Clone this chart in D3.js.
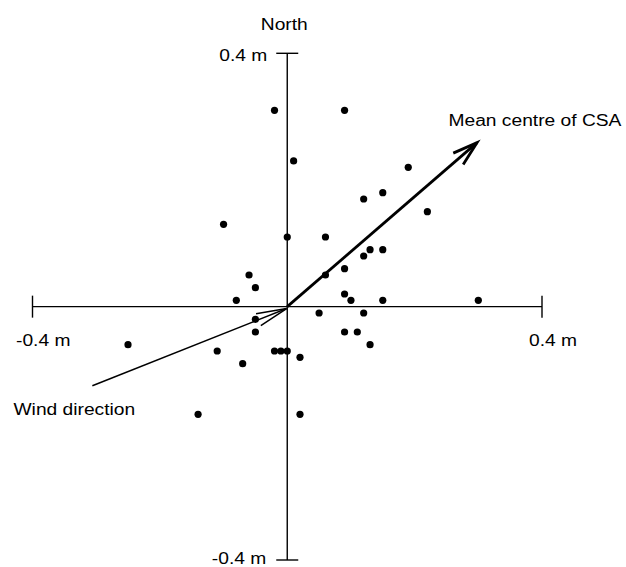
<!DOCTYPE html>
<html>
<head>
<meta charset="utf-8">
<script src="https://cdn.jsdelivr.net/npm/d3@7"></script>
<style>
  html, body { margin: 0; padding: 0; background: #fff; }
  text { font-family: "Liberation Sans", Arial, Helvetica, sans-serif; font-size: 16px; fill: #000; }
</style>
</head>
<body>
<svg id="chart" width="626" height="567"></svg>
<script>
// Displacement (m) east (x) and north (y) of each point
const pointsX = [-0.02, 0.09, 0.01, 0.19, 0.12, 0.15, 0.22, -0.10, 0.00, 0.06,
                 0.13, 0.15, 0.12, -0.06, 0.06, 0.09, -0.05, -0.08, 0.09, 0.10,
                 0.15, 0.30, 0.05, 0.12, -0.05, -0.05, 0.09, 0.11, 0.13, -0.11,
                 -0.02, -0.01, 0.00, -0.25, 0.02, -0.07, -0.14, 0.02];
const pointsY = [0.31, 0.31, 0.23, 0.22, 0.17, 0.18, 0.15, 0.13, 0.11, 0.11,
                 0.09, 0.09, 0.08, 0.05, 0.05, 0.06, 0.03, 0.01, 0.02, 0.01,
                 0.01, 0.01, -0.01, -0.01, -0.02, -0.04, -0.04, -0.04, -0.06, -0.07,
                 -0.07, -0.07, -0.07, -0.06, -0.08, -0.09, -0.17, -0.17];
// Arrows: [x1, y1, x2, y2] in metres
const meanArrow = [0, 0, 0.298, 0.259];
const windArrow = [-0.306, -0.125, -0.001, -0.003];
const axisExtent = [-0.4, 0.4];
const xTickLabels = ["-0.4 m", "0.4 m"];
const yTickLabels = ["-0.4 m", "0.4 m"];
const axisTitle = "North";
const meanLabel = "Mean centre of CSA";
const windLabel = "Wind direction";

const svg = d3.select("#chart");
const x = d3.scaleLinear().domain(axisExtent).range([32.5, 542]);
const y = d3.scaleLinear().domain(axisExtent).range([560, 53.3]);

const g = svg.append("g");
const stroke = "#000";

// axes
g.append("line").attr("x1", x(-0.4)).attr("x2", x(0.4)).attr("y1", y(0)).attr("y2", y(0))
  .attr("stroke", stroke).attr("stroke-width", 1.4);
g.append("line").attr("y1", y(-0.4)).attr("y2", y(0.4)).attr("x1", x(0)).attr("x2", x(0))
  .attr("stroke", stroke).attr("stroke-width", 1.4);
// end ticks
axisExtent.forEach(v => {
  g.append("line").attr("x1", x(v)).attr("x2", x(v)).attr("y1", y(0) - 11).attr("y2", y(0) + 11)
    .attr("stroke", stroke).attr("stroke-width", 1.4);
  g.append("line").attr("y1", y(v)).attr("y2", y(v)).attr("x1", x(0) - 11).attr("x2", x(0) + 11)
    .attr("stroke", stroke).attr("stroke-width", 1.4);
});

// points
g.selectAll("circle.pt").data(d3.range(pointsX.length)).join("circle")
  .attr("class", "pt")
  .attr("cx", i => x(pointsX[i])).attr("cy", i => y(pointsY[i]))
  .attr("r", 3.6).attr("fill", "#000");

// arrows
function arrow(a, width, headLen, headAngleDeg) {
  const x1 = x(a[0]), y1 = y(a[1]), x2 = x(a[2]), y2 = y(a[3]);
  const back = Math.atan2(y1 - y2, x1 - x2);
  const ang = headAngleDeg * Math.PI / 180;
  const p1 = [x2 + headLen * Math.cos(back + ang), y2 + headLen * Math.sin(back + ang)];
  const p2 = [x2 + headLen * Math.cos(back - ang), y2 + headLen * Math.sin(back - ang)];
  g.append("line").attr("x1", x1).attr("y1", y1).attr("x2", x2).attr("y2", y2)
    .attr("stroke", stroke).attr("stroke-width", width);
  g.append("path")
    .attr("d", `M${p1[0]},${p1[1]}L${x2},${y2}L${p2[0]},${p2[1]}`)
    .attr("fill", "none").attr("stroke", stroke).attr("stroke-width", width)
    .attr("stroke-linejoin", "miter").attr("stroke-linecap", "butt");
}
arrow(meanArrow, 2.8, 26, 17);
arrow(windArrow, 1.5, 31, 12);

// labels (source font is horizontally wide)
const stretch = 1.2;
function label(txt, px, py, anchor) {
  const t = g.append("text").attr("x", px).attr("y", py).attr("text-anchor", anchor).text(txt);
  const w = t.node().getComputedTextLength();
  t.attr("textLength", w * stretch).attr("lengthAdjust", "spacingAndGlyphs");
  return t;
}
label(axisTitle, x(0) - 3, 30, "middle");
label(yTickLabels[1], x(0) - 20, 60.7, "end");
label(yTickLabels[0], x(0) - 21, 564, "end");
label(xTickLabels[0], 16, 346, "start");
label(xTickLabels[1], 529, 345.5, "start");
label(meanLabel, 448.5, 126, "start");
label(windLabel, 13.5, 415, "start");
</script>
</body>
</html>
